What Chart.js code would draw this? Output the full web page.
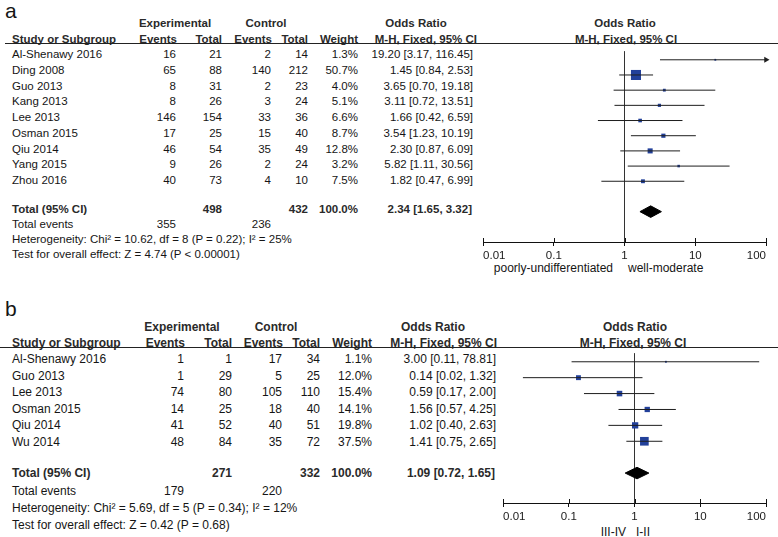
<!DOCTYPE html>
<html>
<head>
<meta charset="utf-8">
<title>Forest plots</title>
<script src="https://cdn.jsdelivr.net/npm/chart.js@4.4.1/dist/chart.umd.min.js"></script>
<style>
  html, body { margin: 0; padding: 0; background: #fff; }
  #page { position: relative; width: 778px; height: 537px; overflow: hidden;
          font-family: "Liberation Sans", Arial, sans-serif; color: #151515; }
  .t { position: absolute; white-space: nowrap; line-height: 1; transform: translateY(-50%); }
  .b { font-weight: bold; color: #2a2a2a; }
  .rule { position: absolute; height: 1px; background: #222; }
  canvas { position: absolute; }
</style>
</head>
<body>
<div id="page"></div>
<script>
// ---- panel a ----
const studiesA = ['Al-Shenawy 2016', 'Ding 2008', 'Guo 2013', 'Kang 2013', 'Lee 2013',
                  'Osman 2015', 'Qiu 2014', 'Yang 2015', 'Zhou 2016'];
const expEventsA = [16, 65, 8, 8, 146, 17, 46, 9, 40];
const expTotalA = [21, 88, 31, 26, 154, 25, 54, 26, 73];
const ctrlEventsA = [2, 140, 2, 3, 33, 15, 35, 2, 4];
const ctrlTotalA = [14, 212, 23, 24, 36, 40, 49, 24, 10];
const weightA = [1.3, 50.7, 4.0, 5.1, 6.6, 8.7, 12.8, 3.2, 7.5];
const orA = [19.20, 1.45, 3.65, 3.11, 1.66, 3.54, 2.30, 5.82, 1.82];
const loA = [3.17, 0.84, 0.70, 0.72, 0.42, 1.23, 0.87, 1.11, 0.47];
const hiA = [116.45, 2.53, 19.18, 13.51, 6.59, 10.19, 6.09, 30.56, 6.99];
const totalsA = [498, 432];
const totalEventsA = [355, 236];
const pooledA = [2.34, 1.65, 3.32];
const hetA = 'Heterogeneity: Chi\u00b2 = 10.62, df = 8 (P = 0.22); I\u00b2 = 25%';
const testA = 'Test for overall effect: Z = 4.74 (P < 0.00001)';
const sideA = ['poorly-undifferentiated', 'well-moderate'];

// ---- panel b ----
const studiesB = ['Al-Shenawy 2016', 'Guo 2013', 'Lee 2013', 'Osman 2015', 'Qiu 2014', 'Wu 2014'];
const expEventsB = [1, 1, 74, 14, 41, 48];
const expTotalB = [1, 29, 80, 25, 52, 84];
const ctrlEventsB = [17, 5, 105, 18, 40, 35];
const ctrlTotalB = [34, 25, 110, 40, 51, 72];
const weightB = [1.1, 12.0, 15.4, 14.1, 19.8, 37.5];
const orB = [3.00, 0.14, 0.59, 1.56, 1.02, 1.41];
const loB = [0.11, 0.02, 0.17, 0.57, 0.40, 0.75];
const hiB = [78.81, 1.32, 2.00, 4.25, 2.63, 2.65];
const totalsB = [271, 332];
const totalEventsB = [179, 220];
const pooledB = [1.09, 0.72, 1.65];
const hetB = 'Heterogeneity: Chi\u00b2 = 5.69, df = 5 (P = 0.34); I\u00b2 = 12%';
const testB = 'Test for overall effect: Z = 0.42 (P = 0.68)';
const sideB = ['III-IV', 'I-II'];

const xTicks = [0.01, 0.1, 1, 10, 100];

// layout of each panel (pixels)
const layoutA = {
  letter: [5, 10], head1Y: 24, head2Y: 40, ruleY: 43, ruleX: 5, font: 11.5,
  rowY0: 55, rowStep: 15.75, totalY: 210, eventsY: 225, hetY: 240, testY: 255,
  cols: { ee: 176, et: 222, ce: 271, ct: 308, w: 358, or: 473, mh: 477 },
  head: { exp: 175, ctrl: 266, or: 416, plot: 625, plot2: 626 },
  plot: { left: 482, right: 766, top: 44, bottom: 242 }, markY0: 53, markStep: 15.75,
  sideY: 268, side: [613, 628]
};
const layoutB = {
  letter: [5, 308], head1Y: 327, head2Y: 343, ruleY: 347, ruleX: 0, font: 12,
  rowY0: 359, rowStep: 16.6, totalY: 473, eventsY: 491, hetY: 508, testY: 525,
  cols: { ee: 184, et: 232, ce: 282, ct: 320, w: 372, or: 496, mh: 497 },
  head: { exp: 182, ctrl: 276, or: 433, plot: 635, plot2: 633 },
  plot: { left: 503, right: 766, top: 347, bottom: 503 }, markY0: 356, markStep: 16.55,
  sideY: 532, side: [626, 636]
};

const page = document.getElementById('page');

function put(txt, x, y, align, size, bold) {
  const d = document.createElement('div');
  d.className = 't' + (bold ? ' b' : '');
  d.textContent = txt;
  d.style.fontSize = size + 'px';
  d.style.top = y + 'px';
  if (align === 'right') d.style.right = (778 - x) + 'px';
  else if (align === 'center') { d.style.left = x + 'px'; d.style.transform = 'translate(-50%,-50%)'; }
  else d.style.left = x + 'px';
  page.appendChild(d);
}

const ci = (v, l, h) => v.toFixed(2) + ' [' + l.toFixed(2) + ', ' + h.toFixed(2) + ']';

function drawTable(L, p) {
  const f = L.font, c = L.cols;
  put(p.letter, L.letter[0], L.letter[1], 'left', 21);
  put('Experimental', L.head.exp, L.head1Y, 'center', f, true);
  put('Control', L.head.ctrl, L.head1Y, 'center', f, true);
  put('Odds Ratio', L.head.or, L.head1Y, 'center', f, true);
  put('Odds Ratio', L.head.plot, L.head1Y, 'center', f, true);
  put('Study or Subgroup', 12, L.head2Y, 'left', f, true);
  put('Events', c.ee + 1, L.head2Y, 'right', f, true);
  put('Total', c.et, L.head2Y, 'right', f, true);
  put('Events', c.ce + 1, L.head2Y, 'right', f, true);
  put('Total', c.ct, L.head2Y, 'right', f, true);
  put('Weight', c.w, L.head2Y, 'right', f, true);
  put('M-H, Fixed, 95% CI', c.mh, L.head2Y, 'right', f, true);
  put('M-H, Fixed, 95% CI', L.head.plot2, L.head2Y, 'center', f, true);
  const r = document.createElement('div');
  r.className = 'rule';
  r.style.left = L.ruleX + 'px'; r.style.width = (778 - L.ruleX) + 'px'; r.style.top = L.ruleY + 'px';
  page.appendChild(r);

  p.studies.forEach((s, i) => {
    const y = L.rowY0 + i * L.rowStep;
    put(s, 12, y, 'left', f);
    put(String(p.ee[i]), c.ee, y, 'right', f);
    put(String(p.et[i]), c.et, y, 'right', f);
    put(String(p.ce[i]), c.ce, y, 'right', f);
    put(String(p.ct[i]), c.ct, y, 'right', f);
    put(p.w[i].toFixed(1) + '%', c.w, y, 'right', f);
    put(ci(p.or[i], p.lo[i], p.hi[i]), c.or, y, 'right', f);
  });
  put('Total (95% CI)', 12, L.totalY, 'left', f, true);
  put(String(p.totals[0]), c.et, L.totalY, 'right', f, true);
  put(String(p.totals[1]), c.ct, L.totalY, 'right', f, true);
  put('100.0%', c.w, L.totalY, 'right', f, true);
  put(ci(p.pooled[0], p.pooled[1], p.pooled[2]), c.or - 1, L.totalY, 'right', f, true);
  put('Total events', 12, L.eventsY, 'left', f);
  put(String(p.events[0]), c.ee, L.eventsY, 'right', f);
  put(String(p.events[1]), c.ce, L.eventsY, 'right', f);
  put(p.het, 12, L.hetY, 'left', f);
  put(p.test, 12, L.testY, 'left', f);
  put(p.side[0], L.side[0], L.sideY, 'right', 12);
  put(p.side[1], L.side[1], L.sideY, 'left', 12);
}

// RevMan-style tick marks also poke above the axis line
const tickUp = {
  id: 'tickUp',
  afterDraw(chart) {
    const s = chart.scales.x, g = chart.ctx;
    g.save();
    g.strokeStyle = '#111';
    g.lineWidth = 1;
    g.beginPath();
    s.ticks.forEach(t => {
      const px = Math.round(s.getPixelForValue(t.value)) + 0.5;
      g.moveTo(px, s.top - 4);
      g.lineTo(px, s.top);
    });
    g.stroke();
    g.restore();
  }
};

function drawForest(L, p) {
  const padL = 6, axisH = 30;
  const cvLeft = L.plot.left - padL;
  const cv = document.createElement('canvas');
  cv.width = 778 - cvLeft;
  cv.height = (L.plot.bottom - L.plot.top) + axisH;
  cv.style.left = cvLeft + 'px';
  cv.style.top = L.plot.top + 'px';
  page.appendChild(cv);

  const xMax = xTicks[xTicks.length - 1];
  const yMin = -(L.markY0 - L.plot.top) / L.markStep;
  const yMax = yMin + (L.plot.bottom - L.plot.top) / L.markStep;
  const totalRow = p.or.length + 1;
  const dh = 6 / L.markStep;

  const datasets = p.or.map((v, i) => ({
    data: [{ x: p.lo[i], y: i }, { x: Math.min(p.hi[i], xMax), y: i }],
    showLine: true, borderColor: '#1e1e1e', borderWidth: 1, pointRadius: 0
  }));
  datasets.push({
    data: p.hi.map((h, i) => h > xMax ? { x: xMax, y: i } : null).filter(Boolean),
    pointStyle: 'triangle', rotation: 90, pointRadius: 3.5,
    backgroundColor: '#1e1e1e', borderColor: '#1e1e1e', borderWidth: 0, clip: false
  });
  datasets.push({
    data: p.or.map((v, i) => ({ x: v, y: i })),
    pointStyle: 'rect', pointRadius: p.w.map(w => Math.max(1.3, Math.sqrt(w))),
    backgroundColor: '#22409a', borderWidth: 0
  });
  const [est, plo, phi] = p.pooled;
  datasets.push({
    data: [{ x: plo, y: totalRow }, { x: est, y: totalRow - dh }, { x: phi, y: totalRow },
           { x: est, y: totalRow + dh }, { x: plo, y: totalRow }],
    showLine: true, fill: 'shape', backgroundColor: '#000', borderColor: '#000',
    borderWidth: 1, pointRadius: 0
  });

  new Chart(cv.getContext('2d'), {
    type: 'scatter',
    data: { datasets },
    plugins: [tickUp],
    options: {
      responsive: false,
      animation: false,
      events: [],
      layout: { padding: { left: padL, right: 778 - L.plot.right, top: 0, bottom: 0 } },
      plugins: { legend: { display: false }, tooltip: { enabled: false } },
      scales: {
        x: {
          type: 'logarithmic',
          min: xTicks[0], max: xMax,
          afterBuildTicks: s => { s.ticks = xTicks.map(v => ({ value: v })); },
          afterFit: s => { s.height = axisH; },
          ticks: {
            autoSkip: false, maxRotation: 0, align: 'inner', padding: 3,
            color: '#1a1a1a', font: { family: 'Liberation Sans', size: 11.5 },
            callback: v => String(v)
          },
          grid: {
            color: c => (c.tick && c.tick.value === 1) ? '#333' : 'rgba(0,0,0,0)',
            tickColor: '#111', tickLength: 4, drawTicks: true
          },
          border: { color: '#111', width: 1 }
        },
        y: { type: 'linear', display: false, reverse: true, min: yMin, max: yMax }
      }
    }
  });
}

const panelA = { letter: 'a', studies: studiesA, ee: expEventsA, et: expTotalA, ce: ctrlEventsA,
  ct: ctrlTotalA, w: weightA, or: orA, lo: loA, hi: hiA, totals: totalsA, events: totalEventsA,
  pooled: pooledA, het: hetA, test: testA, side: sideA };
const panelB = { letter: 'b', studies: studiesB, ee: expEventsB, et: expTotalB, ce: ctrlEventsB,
  ct: ctrlTotalB, w: weightB, or: orB, lo: loB, hi: hiB, totals: totalsB, events: totalEventsB,
  pooled: pooledB, het: hetB, test: testB, side: sideB };

drawTable(layoutA, panelA);
drawForest(layoutA, panelA);
drawTable(layoutB, panelB);
drawForest(layoutB, panelB);
</script>
</body>
</html>
